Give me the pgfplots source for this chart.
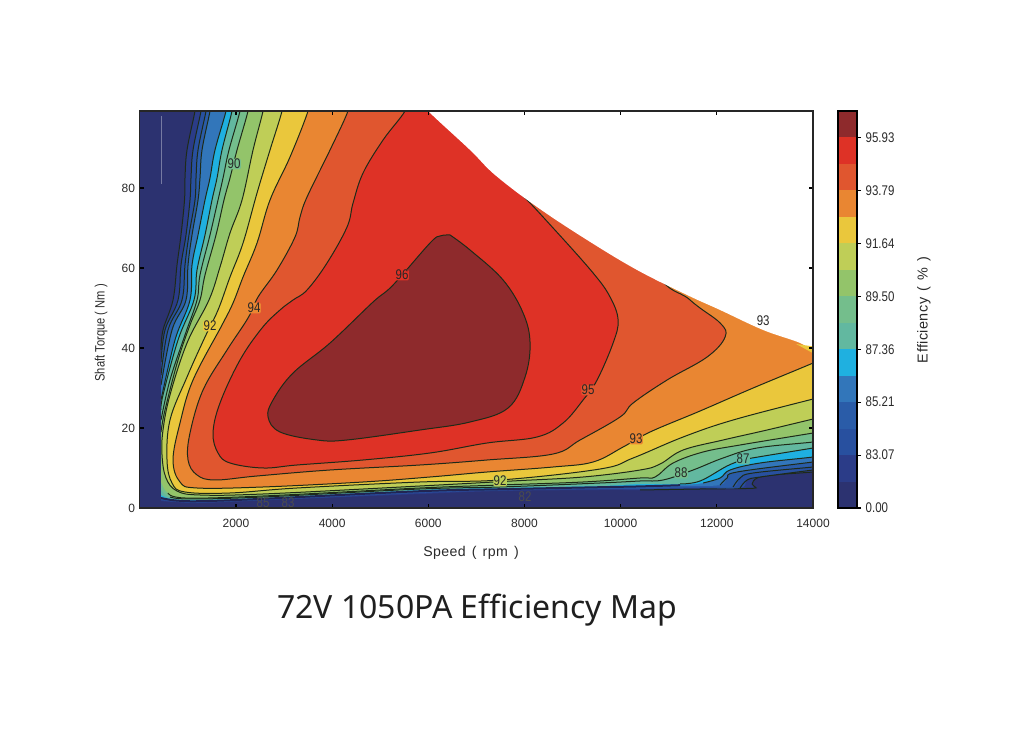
\documentclass[border=0pt]{standalone}
\usepackage{pgfplots}
\pgfplotsset{compat=1.18}
\usepackage{fontspec}
\setmainfont{Liberation Sans}
\newfontfamily\cond[FakeStretch=0.82]{Liberation Sans}
\newfontfamily\lab[LetterSpace=3,WordSpace=1.4]{Liberation Sans}
\newfontfamily\ttl{Noto Sans}
\definecolor{c0}{HTML}{2C3270}
\definecolor{c1}{HTML}{2B3C88}
\definecolor{c2}{HTML}{28509F}
\definecolor{c3}{HTML}{2A5CA8}
\definecolor{c4}{HTML}{3276BA}
\definecolor{c5}{HTML}{1FB0E0}
\definecolor{c6}{HTML}{62B8A0}
\definecolor{c7}{HTML}{74BE8C}
\definecolor{c8}{HTML}{93C46A}
\definecolor{c9}{HTML}{BFCE57}
\definecolor{c10}{HTML}{EAC73C}
\definecolor{c11}{HTML}{E98632}
\definecolor{c12}{HTML}{E0562F}
\definecolor{c13}{HTML}{DE3226}
\definecolor{c14}{HTML}{8E2A2C}
\definecolor{ln}{HTML}{1E2A18}
\definecolor{txt}{HTML}{2A2A2A}
\def\tens{0.62}
\newcommand\bandA[3]{%
  \addplot[fill=#1,draw=none,smooth,tension=\tens] coordinates {#2 #3};
  \addplot[draw=ln,line width=0.75pt,smooth,tension=\tens] coordinates {#2};}
% #2 upper contour, #3 unstroked connector and lower part, #4 stroked lower contour, #5 closing
\newcommand\bandC[5]{%
  \addplot[fill=#1,draw=none,smooth,tension=\tens] coordinates {#2 #3 #4 #5};
  \addplot[draw=ln,line width=0.75pt,smooth,tension=\tens] coordinates {#2};
  \addplot[draw=ln,line width=0.75pt,smooth,tension=\tens] coordinates {#4};}
\tikzset{clab/.style={font=\cond\fontsize{10.5}{11}\selectfont,text=black!85,inner sep=0.3pt,rounded corners=1pt}}
\begin{document}
\begin{tikzpicture}
\useasboundingbox (0,0) rectangle (768pt,548.25pt);
\begin{axis}[
  at={(104.85pt,167.25pt)},anchor=south west,
  scale only axis,width=504.9pt,height=297.75pt,
  xmin=0,xmax=14000,ymin=0,ymax=99.25,
  xtick={2000,4000,6000,8000,10000,12000,14000},
  ytick={0,20,40,60,80},
  scaled x ticks=false,scaled y ticks=false,
  tick align=inside,major tick length=3pt,
  tick style={black,line width=0.8pt},
  axis line style={black!85,line width=1pt},
  axis on top,
  /pgf/number format/assume math mode=true,
  /pgf/number format/1000 sep={},
  tick label style={font=\fontsize{9}{10}\selectfont,text=txt},
  xticklabel style={yshift=-5pt},
  xlabel={\lab Speed ( rpm )},
  ylabel={\cond Shaft Torque ( Nm )},
  xlabel style={at={(rel axis cs:0.492,-0.113)},anchor=center,font=\fontsize{10.6}{11}\selectfont,text=txt},
  ylabel style={at={(rel axis cs:-0.0576,0.441)},anchor=center,font=\fontsize{10.2}{11}\selectfont,text=txt},
  title={\ttl 72V 1050PA Efficiency Map},
  title style={at={(rel axis cs:0.501,-0.277)},anchor=center,font=\fontsize{24}{26}\selectfont,text=black!88},
]
\addplot[fill=c0,draw=none] coordinates {(0,0)(14000,0)(14000,99.25)(0,99.25)};
\addplot[draw=white!35!c0,line width=0.5pt] coordinates {(441,81)(441,98)};
% b1
\bandC{c1}{(1190,103.25)(1148,99.25)(982,89.5)(940,82.5)(930,77)(857,68.25)(774,60.75)(691,52)(483,44.5)(441,39.5)}
{(441,39)(441,2)(441,1.75)(732,1.5)(1252,1.25)(2563,1.9)(5828,3.5)(7492,4.25)(9572,4.5)}
{(10404,4.5)(11652,4.75)(12692,4.9)(12796,5.25)(12734,6)(12838,7.5)(13171,8.25)(14003,9)(14356,9.5)}{(14356,103.25)}
% b2
\bandC{c2}{(1315,103.25)(1273,99.25)(1107,89.5)(1065,82.5)(1044,77)(961,68.25)(857,60.75)(795,52)(524,44.5)(441,36.5)}
{(441,36)(441,2.25)(441,2)(732,1.6)(1252,1.4)(2563,2)(5828,3.75)(7492,4.4)(9572,4.75)(10404,4.75)(11652,5)}
{(12484,5)(12630,7)(12900,7.75)(14003,9.5)(14356,10)}{(14356,103.25)}
% b3
\bandC{c3}{(1419,103.25)(1377,99.25)(1211,89.5)(1169,82.5)(1148,77)(1023,68.25)(940,60.75)(878,52)(587,44.5)(441,33.25)}
{(441,33)(441,2.5)(441,2.25)(732,1.75)(1252,1.5)(2563,2.1)(5828,4)(7492,4.5)(9572,4.9)(10404,5)(11652,5.25)}
{(12339,5.25)(12484,7.5)(12755,8.75)(14003,10.25)(14356,10.75)}{(14356,103.25)}
% b4
\bandC{c4}{(1502,103.25)(1460,99.25)(1294,89.5)(1252,82.5)(1211,77)(1086,68.25)(1003,60.75)(961,52)(670,44.5)(441,30.75)}
{(441,30.5)(441,2.75)(441,2.5)(732,1.9)(1252,1.6)(2563,2.25)(5828,4.1)(7492,4.6)(9572,5.1)(10404,5.25)(11444,5.5)}
{(12068,5.75)(12213,7.5)(12422,9)(14003,11.5)(14356,12)}{(14356,103.25)}
% b5
\bandC{c5}{(1835,103.25)(1793,99.25)(1564,89.5)(1460,82.5)(1356,77)(1211,68.25)(1086,60.75)(1044,52)(732,42)(441,27)}
{(441,26.75)(441,3)(441,2.75)(732,2)(1252,1.75)(2563,2.4)(5828,4.25)(7492,4.75)(9572,5.25)(10404,5.5)(11236,5.75)}
{(11714,6.25)(12068,7.5)(12276,9.5)(12900,11.25)(14003,12.75)(14356,13.5)}{(14356,103.25)}
% b6
\bandC{c6}{(1959,103.25)(1918,99.25)(1710,89.5)(1606,82.5)(1502,77)(1356,68.25)(1190,59.5)(1127,52)(795,42)(483,28.25)(441,24.5)}
{(441,24.25)(441,3.5)(441,3.25)(670,2.25)(1148,2)(2563,2.5)(5828,4.5)(7492,5)(9572,5.5)(10404,6)}
{(11236,6)(11652,6.75)(12213,10.5)(12546,12)(12859,12.75)(14003,15)(14356,15.75)}{(14356,103.25)}
% b7
\bandC{c7}{(2126,103.25)(2084,99.25)(1855,89.5)(1731,82.5)(1627,77)(1460,68.25)(1252,58.25)(1190,52)(940,43.25)(628,32)(441,22)}
{(441,21.75)(441,4.75)(441,4.5)}
{(628,2.75)(1044,2.25)(2563,2.75)(5828,4.75)(7492,5.25)(9572,6.25)(10404,6.75)(10882,7)(11507,9.5)(12130,12.5)(12838,15)(14003,16.5)(14356,17.25)}{(14356,103.25)}
% b8
\bandC{c8}{(2292,103.25)(2251,99.25)(2022,89.5)(1876,82.5)(1751,77)(1585,68.25)(1356,58.25)(1252,52)(1044,45.75)(795,37)(524,24.5)(441,19)}
{(441,18.75)(441,6.75)(441,6.5)}
{(587,3.75)(940,2.5)(2563,3)(5828,5)(7492,5.75)(9219,6.5)(10404,7.5)(10716,7.75)(11091,11.25)(11714,14)(12484,15.75)(14003,18.75)(14356,19.5)}{(14356,103.25)}
% b9
\bandA{c9}{(2604,103.25)(2563,99.25)(2355,89.5)(2126,77)(1876,68.75)(1668,60.25)(1439,52)(982,41.25)(628,28.25)(483,19.5)(462,13.25)(545,7.5)(774,4.25)(1252,3.25)(2563,3.5)(5828,5.5)(7742,6.75)(9219,7.75)(10404,9.5)(10820,11)(11299,14.5)(12130,17)(13046,19.5)(14003,22.25)(14356,23.25)}{(14356,103.25)}
% b10 (92)
\bandA{c10}{(2999,103.25)(2958,99.25)(2708,89.5)(2438,78.75)(2147,66.25)(1876,57.75)(1627,49.5)(1356,42.75)(982,32.75)(628,22)(566,12)(670,6.25)(940,4)(1876,3.75)(3270,5)(5828,6.5)(7492,7)(9572,9.75)(10259,12.5)(11299,17.75)(12339,22)(14003,27.25)(14356,28.25)}{(14356,103.25)}
% b11 (93)
\bandA{c11}{(3540,103.25)(3499,99.25)(3124,87.75)(2708,77)(2438,66.25)(2147,57.75)(1939,51.25)(1710,45.75)(1107,32)(836,21.25)(691,12)(836,6.5)(1190,5)(2563,5.25)(4643,6.5)(6036,7.75)(7222,9)(8595,10.25)(9427,11.5)(10051,15.25)(10612,19)(11652,24.25)(12755,30)(14003,36.25)(14356,38.25)}{(14356,103.25)}
% b12 (94)
\bandA{c12}{(4372,103.25)(4330,99.25)(3956,89.5)(3478,77.75)(3332,72.75)(3228,67.75)(2854,59.5)(2459,52.75)(2251,47.5)(1814,39.5)(1315,29.5)(1044,18.75)(1003,12)(1190,8.25)(1564,7)(2438,8)(3956,9.5)(5828,10.75)(7222,12)(8595,13.5)(9156,17)(9988,22.75)(10259,26.25)(10966,32)(11798,37.75)(12172,42.75)(12068,46.25)(11444,52)(10612,62)(9572,103.25)}{}
% b13 (95)
\bandA{c13}{(5599,103.25)(5516,99.25)(5059,92)(4643,83.75)(4435,76.25)(4310,70.25)(3894,61.25)(3478,54.5)(3187,52)(2916,49.5)(2542,45)(2084,37)(1668,26.25)(1523,18.75)(1627,13.75)(1876,11.25)(2563,10)(3270,10.75)(4643,12)(6036,13.75)(7222,16.25)(8262,17.75)(8803,21.25)(9219,27)(9510,32)(9843,41.25)(9947,47)(9780,52.75)(9427,58.75)(8595,70)(7908,78.75)(7430,83.25)(6868,90.75)(6244,103.25)}{}
% b14 (96)
\bandA{c14}{(6452,68.25)(6868,64.5)(7555,57)(7971,48.75)(8116,41.25)(8012,32.75)(7659,25)(6868,21.5)(5828,19.5)(4310,17)(3686,17)(2916,19)(2667,22.75)(2771,27)(3187,33.75)(3956,41.25)(4851,51.5)(5267,55.75)(6036,66.25)(6244,68)(6452,68.25)}{}
% dark band of the tightly packed low contours, and the empty area left of the map
\addplot[draw=c0!75!black,line width=1.5pt,smooth,tension=\tens] coordinates {(441,2.5)(732,1.9)(1252,1.7)(2563,2.3)(5828,4.2)(7492,4.7)(9572,5.2)(10404,5.4)(11236,5.7)};
\addplot[fill=c0,draw=none] coordinates {(0,0)(441,0)(441,39.5)(0,39.5)};
% white region above the torque envelope
\addplot[fill=white,draw=none,smooth,tension=\tens] coordinates {(5724,103.25)(5995,99.25)(6868,89.5)(7388,83.25)(8262,75.25)(9302,67)(10342,59.5)(11382,53.25)(12068,49.5)(12963,44.5)(13732,41.25)(14003,39)(14356,37.5)(14356,103.25)};
\addplot[fill=c10,draw=none] coordinates {(13650,41)(14000,40.4)(14000,38.7)};
\node[clab,fill=c7] at (axis cs:1959,86) {90};
\node[clab,fill=c13] at (axis cs:5454,58.25) {96};
\node[clab,fill=c11] at (axis cs:2375,50) {94};
\node[clab,fill=c10] at (axis cs:1460,45.5) {92};
\node[clab,fill=c12] at (axis cs:9323,29.5) {95};
\node[clab,fill=c11] at (axis cs:10321,17.25) {93};
\node[clab] at (axis cs:12963,46.75) {93};
\node[clab,fill=c9] at (axis cs:7492,6.75) {92};
\node[clab,text=black!70] at (axis cs:8012,2.75) {82};
\node[clab,text=black!70] at (axis cs:2563,1.25) {85};
\node[clab,text=black!70] at (axis cs:3083,1.25) {83};
\node[clab,fill=c7] at (axis cs:11257,8.75) {88};
\node[clab,fill=c6] at (axis cs:12546,12.25) {87};
\end{axis}
% colour bar
\begin{axis}[
  at={(628.5pt,167.25pt)},anchor=south west,
  scale only axis,width=14.25pt,height=297.75pt,
  xmin=0,xmax=1,ymin=0,ymax=15,
  xtick=\empty,
  ytick={0,2,4,6,8,10,12,14},
  yticklabels={0.00,83.07,85.21,87.36,89.50,91.64,93.79,95.93},
  yticklabel pos=right,
  ytick pos=right,
  tick align=outside,major tick length=3pt,
  tick style={black,line width=0.8pt},
  axis line style={black,line width=1pt},
  axis on top,
  tick label style={font=\cond\fontsize{10.5}{11}\selectfont,text=txt},
  ylabel={\lab Efficiency ( \% )},
  ylabel style={at={(rel axis cs:4.526,0.499)},anchor=center,font=\fontsize{10.8}{11}\selectfont,text=txt},
]
\addplot[fill=c0,draw=none] coordinates {(0,0)(1,0)(1,1)(0,1)};
\addplot[fill=c1,draw=none] coordinates {(0,1)(1,1)(1,2)(0,2)};
\addplot[fill=c2,draw=none] coordinates {(0,2)(1,2)(1,3)(0,3)};
\addplot[fill=c3,draw=none] coordinates {(0,3)(1,3)(1,4)(0,4)};
\addplot[fill=c4,draw=none] coordinates {(0,4)(1,4)(1,5)(0,5)};
\addplot[fill=c5,draw=none] coordinates {(0,5)(1,5)(1,6)(0,6)};
\addplot[fill=c6,draw=none] coordinates {(0,6)(1,6)(1,7)(0,7)};
\addplot[fill=c7,draw=none] coordinates {(0,7)(1,7)(1,8)(0,8)};
\addplot[fill=c8,draw=none] coordinates {(0,8)(1,8)(1,9)(0,9)};
\addplot[fill=c9,draw=none] coordinates {(0,9)(1,9)(1,10)(0,10)};
\addplot[fill=c10,draw=none] coordinates {(0,10)(1,10)(1,11)(0,11)};
\addplot[fill=c11,draw=none] coordinates {(0,11)(1,11)(1,12)(0,12)};
\addplot[fill=c12,draw=none] coordinates {(0,12)(1,12)(1,13)(0,13)};
\addplot[fill=c13,draw=none] coordinates {(0,13)(1,13)(1,14)(0,14)};
\addplot[fill=c14,draw=none] coordinates {(0,14)(1,14)(1,15)(0,15)};
\end{axis}
\end{tikzpicture}
\end{document}
